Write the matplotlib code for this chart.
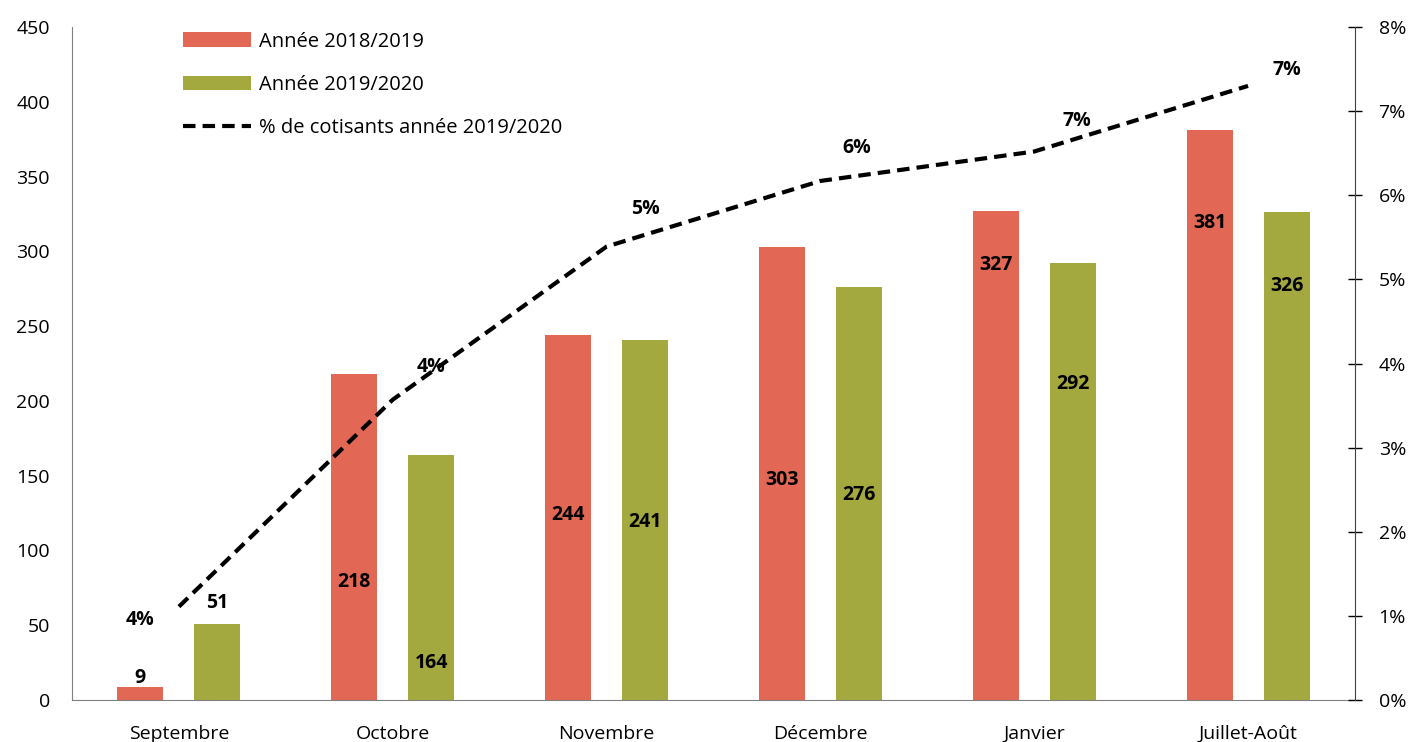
import matplotlib
matplotlib.use("Agg")
import matplotlib.pyplot as plt
from matplotlib.ticker import FuncFormatter
import numpy as np

plt.rcParams["font.family"] = ["Open Sans", "DejaVu Sans"]

months = ["Septembre", "Octobre", "Novembre", "Décembre", "Janvier", "Juillet-Août"]
y2018 = [9, 218, 244, 303, 327, 381]
y2019 = [51, 164, 241, 276, 292, 326]
pct_2019 = [1.11, 3.57, 5.39, 6.17, 6.52, 7.30]
pct_labels = ["4%", "4%", "5%", "6%", "7%", "7%"]

# where the value labels sit (as drawn in the original)
lab_y2018 = [15, 79, 124, 147, 291, 319]
lab_y2019 = [65, 25, 119, 137, 211, 277]
lab_pct_dx = [-0.18, 0.18, 0.18, 0.17, 0.20, 0.18]
lab_pct_y = [0.95, 3.96, 5.84, 6.56, 6.88, 7.49]

red = "#E26855"
green = "#A3A83F"
fs = 14

fig = plt.figure(figsize=(14.12, 7.42), dpi=100)
ax = fig.add_axes([0.051, 0.0566, 0.9086, 0.907])
ax2 = ax.twinx()

ind = np.arange(len(months))
off = 0.18
width = 0.215

b1 = ax.bar(ind - off, y2018, width, color=red, label="Année 2018/2019", zorder=2)
b2 = ax.bar(ind + off, y2019, width, color=green, label="Année 2019/2020", zorder=2)

ln, = ax2.plot(ind, pct_2019, color="black", linestyle=(0, (3, 1.7)), linewidth=3,
               label="% de cotisants année 2019/2020")

# value labels on the top axes so nothing covers them
for i in ind:
    for x, yl, v in ((i - off, lab_y2018[i], y2018[i]), (i + off, lab_y2019[i], y2019[i])):
        ax2.text(x, yl * 8 / 450, str(v), ha="center", va="center",
                 fontsize=fs, fontweight="bold", zorder=5)
    ax2.text(i + lab_pct_dx[i], lab_pct_y[i], pct_labels[i], ha="center", va="center",
             fontsize=fs, fontweight="bold", zorder=5)

ax.set_xlim(-0.5, 5.5)
ax.set_ylim(0, 450)
ax.set_yticks(np.arange(0, 451, 50))
ax2.set_ylim(0, 8)
ax2.set_yticks(np.arange(0, 9, 1))
ax2.yaxis.set_major_formatter(FuncFormatter(lambda v, p: "{:.0f}%".format(v)))

ax.set_xticks(ind)
ax.set_xticklabels(months)
ax.tick_params(axis="x", length=0, labelsize=fs, pad=18)
ax.tick_params(axis="y", length=0, labelsize=fs, pad=16)
ax2.tick_params(axis="y", direction="inout", length=10, width=1, labelsize=fs, pad=12)

for a in (ax, ax2):
    a.spines["top"].set_visible(False)
ax.spines["right"].set_visible(False)
ax2.spines["left"].set_visible(False)
ax2.spines["bottom"].set_visible(False)
ax.spines["left"].set_color("#808080")
ax.spines["bottom"].set_color("#808080")
ax2.spines["right"].set_color("#404040")

ax.legend(handles=[b1, b2, ln], loc="upper left", bbox_to_anchor=(0.072, 1.02),
          frameon=False, fontsize=14.5, handlelength=3.4, handleheight=0.72,
          labelspacing=1.15, handletextpad=0.4)

plt.savefig("out.png", dpi=100)
